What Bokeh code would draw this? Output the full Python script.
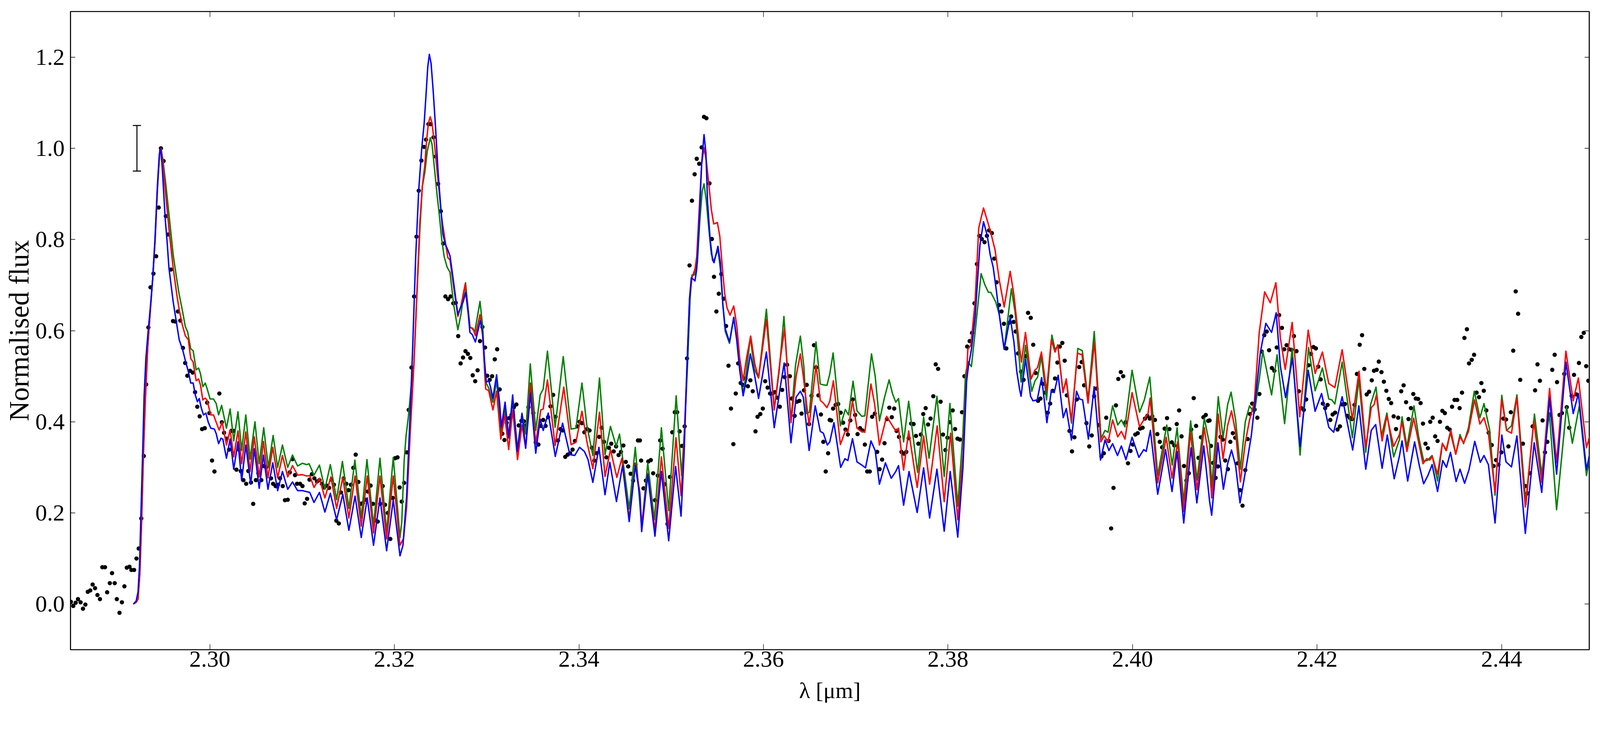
from bokeh.plotting import figure
from bokeh.models import (Range1d, FixedTicker, PrintfTickFormatter, LinearAxis,
                          Whisker, ColumnDataSource, TeeHead)
from bokeh.embed import file_html
from bokeh.resources import INLINE

# ---------------- data (wavelength in micron, normalised flux) ----------------
x_ticks = [2.30, 2.32, 2.34, 2.36, 2.38, 2.40, 2.42, 2.44]
y_ticks = [0.0, 0.2, 0.4, 0.6, 0.8, 1.0, 1.2]

err_wl = [2.2921]
err_flux = [1.0]
err_half = [0.05]

blue_model = [
(2.29176,0.001),(2.29202,0.007),(2.29222,0.027),(2.29238,0.085),(2.29255,0.209),(2.29272,0.333),
(2.29288,0.457),(2.29307,0.539),(2.29327,0.588),(2.29353,0.646),(2.29380,0.712),(2.29406,0.803),
(2.29432,0.919),(2.29452,0.985),(2.29465,1.000),(2.29481,0.968),(2.29498,0.910),(2.29517,0.844),
(2.29537,0.795),(2.29557,0.737),(2.29603,0.663),(2.29642,0.613),(2.29668,0.580),(2.29708,0.556),
(2.29734,0.535),(2.29767,0.510),(2.29793,0.485),(2.29819,0.485),(2.29845,0.457),(2.29865,0.444),
(2.29885,0.451),(2.29905,0.432),(2.29931,0.415),(2.29957,0.419),(2.29983,0.399),(2.30010,0.386),
(2.30049,0.384),(2.30069,0.374),(2.30095,0.352),(2.30121,0.364),(2.30141,0.362),(2.30180,0.320),
(2.30220,0.362),(2.30259,0.296),(2.30305,0.356),(2.30345,0.271),(2.30390,0.349),(2.30443,0.263),
(2.30482,0.341),(2.30535,0.254),(2.30581,0.327),(2.30630,0.252),(2.30682,0.310),(2.30735,0.249),
(2.30787,0.291),(2.30844,0.252),(2.30896,0.268),(2.30951,0.249),(2.31004,0.249),(2.31083,0.245),
(2.31129,0.223),(2.31188,0.245),(2.31247,0.202),(2.31306,0.243),(2.31374,0.185),(2.31441,0.241),
(2.31507,0.162),(2.31574,0.237),(2.31641,0.146),(2.31706,0.233),(2.31774,0.129),(2.31844,0.233),
(2.31916,0.117),(2.31988,0.229),(2.32061,0.106),(2.32093,0.129),(2.32133,0.237),(2.32172,0.422),
(2.32198,0.561),(2.32231,0.762),(2.32264,0.909),(2.32297,1.001),(2.32323,1.055),(2.32343,1.117),
(2.32362,1.179),(2.32379,1.206),(2.32398,1.186),(2.32421,1.125),(2.32448,1.040),(2.32474,0.947),
(2.32500,0.878),(2.32526,0.812),(2.32553,0.789),(2.32579,0.777),(2.32603,0.764),(2.32642,0.706),
(2.32688,0.635),(2.32721,0.653),(2.32747,0.664),(2.32773,0.684),(2.32799,0.640),(2.32819,0.596),
(2.32845,0.591),(2.32878,0.575),(2.32931,0.622),(2.32957,0.596),(2.32977,0.534),(2.32996,0.487),
(2.33023,0.490),(2.33042,0.476),(2.33068,0.452),(2.33108,0.503),(2.33141,0.441),(2.33160,0.388),
(2.33200,0.443),(2.33239,0.366),(2.33282,0.459),(2.33331,0.335),(2.33383,0.417),(2.33423,0.342),
(2.33475,0.463),(2.33532,0.331),(2.33580,0.406),(2.33613,0.381),(2.33668,0.419),(2.33744,0.324),
(2.33823,0.397),(2.33902,0.328),(2.33954,0.326),(2.34007,0.344),(2.34059,0.335),(2.34099,0.317),
(2.34151,0.267),(2.34217,0.344),(2.34283,0.240),(2.34335,0.311),(2.34407,0.225),(2.34473,0.304),
(2.34545,0.181),(2.34611,0.304),(2.34661,0.238),(2.34680,0.159),(2.34746,0.284),(2.34824,0.149),
(2.34894,0.291),(2.34973,0.139),(2.35048,0.302),(2.35107,0.193),(2.35140,0.330),(2.35172,0.526),
(2.35199,0.670),(2.35218,0.716),(2.35238,0.713),(2.35258,0.709),(2.35277,0.735),(2.35304,0.840),
(2.35330,0.965),(2.35356,1.030),(2.35376,0.991),(2.35395,0.879),(2.35422,0.801),(2.35448,0.755),
(2.35464,0.749),(2.35507,0.785),(2.35533,0.749),(2.35560,0.657),(2.35586,0.604),(2.35632,0.575),
(2.35678,0.629),(2.35711,0.578),(2.35743,0.513),(2.35780,0.457),(2.35816,0.493),(2.35858,0.549),
(2.35901,0.506),(2.35947,0.451),(2.36032,0.553),(2.36117,0.387),(2.36183,0.477),(2.36225,0.529),
(2.36298,0.354),(2.36354,0.454),(2.36400,0.467),(2.36432,0.454),(2.36495,0.337),(2.36561,0.435),
(2.36616,0.379),(2.36649,0.375),(2.36692,0.349),(2.36719,0.356),(2.36764,0.398),(2.36837,0.300),
(2.36883,0.319),(2.36915,0.315),(2.36965,0.363),(2.37014,0.312),(2.37066,0.305),(2.37106,0.299),
(2.37165,0.358),(2.37211,0.337),(2.37257,0.263),(2.37322,0.310),(2.37385,0.276),(2.37434,0.291),
(2.37464,0.304),(2.37519,0.217),(2.37578,0.291),(2.37666,0.201),(2.37736,0.299),(2.37801,0.189),
(2.37880,0.296),(2.37959,0.160),(2.38024,0.291),(2.38106,0.147),(2.38162,0.299),(2.38202,0.489),
(2.38221,0.521),(2.38254,0.559),(2.38294,0.630),(2.38346,0.787),(2.38385,0.839),(2.38425,0.809),
(2.38458,0.766),(2.38490,0.739),(2.38523,0.690),(2.38556,0.635),(2.38609,0.559),(2.38674,0.630),
(2.38714,0.576),(2.38746,0.510),(2.38777,0.470),(2.38792,0.456),(2.38840,0.538),(2.38895,0.456),
(2.38921,0.446),(2.38967,0.448),(2.39015,0.497),(2.39072,0.398),(2.39120,0.469),(2.39151,0.464),
(2.39194,0.502),(2.39249,0.409),(2.39282,0.429),(2.39338,0.360),(2.39393,0.467),(2.39426,0.450),
(2.39459,0.448),(2.39522,0.362),(2.39584,0.477),(2.39653,0.316),(2.39702,0.360),(2.39745,0.337),
(2.39784,0.352),(2.39837,0.326),(2.39879,0.347),(2.39929,0.317),(2.39995,0.366),(2.40069,0.322),
(2.40122,0.339),(2.40148,0.335),(2.40194,0.381),(2.40273,0.241),(2.40358,0.339),(2.40428,0.247),
(2.40483,0.335),(2.40555,0.178),(2.40634,0.343),(2.40697,0.222),(2.40772,0.347),(2.40835,0.226),
(2.40858,0.195),(2.40894,0.277),(2.40926,0.354),(2.40985,0.252),(2.41031,0.308),(2.41073,0.338),
(2.41117,0.304),(2.41165,0.222),(2.41228,0.296),(2.41287,0.369),(2.41340,0.465),(2.41386,0.553),
(2.41445,0.616),(2.41507,0.596),(2.41557,0.639),(2.41602,0.522),(2.41659,0.453),(2.41734,0.540),
(2.41816,0.346),(2.41904,0.513),(2.41979,0.423),(2.42049,0.462),(2.42127,0.388),(2.42180,0.377),
(2.42272,0.455),(2.42386,0.338),(2.42453,0.435),(2.42528,0.296),(2.42587,0.381),(2.42635,0.394),
(2.42705,0.298),(2.42761,0.371),(2.42836,0.275),(2.42893,0.325),(2.42921,0.358),(2.42982,0.270),
(2.43057,0.356),(2.43109,0.303),(2.43155,0.264),(2.43201,0.282),(2.43247,0.306),(2.43306,0.247),
(2.43362,0.315),(2.43402,0.300),(2.43446,0.333),(2.43507,0.269),(2.43549,0.296),(2.43599,0.265),
(2.43647,0.295),(2.43709,0.357),(2.43769,0.311),(2.43809,0.326),(2.43857,0.306),(2.43929,0.178),
(2.44002,0.371),(2.44048,0.312),(2.44107,0.301),(2.44166,0.369),(2.44257,0.155),(2.44353,0.354),
(2.44435,0.245),(2.44520,0.452),(2.44596,0.285),(2.44697,0.531),(2.44776,0.418),(2.44832,0.462),
(2.44920,0.295),(2.44951,0.326),
]

red_model = [
(2.29176,0.001),(2.29202,0.004),(2.29222,0.011),(2.29242,0.069),(2.29261,0.184),(2.29281,0.333),
(2.29301,0.448),(2.29327,0.564),(2.29353,0.638),(2.29380,0.712),(2.29406,0.795),(2.29432,0.910),
(2.29458,0.997),(2.29471,1.000),(2.29491,0.968),(2.29524,0.894),(2.29563,0.811),(2.29603,0.737),
(2.29642,0.679),(2.29668,0.646),(2.29701,0.613),(2.29734,0.589),(2.29767,0.580),(2.29793,0.539),
(2.29819,0.531),(2.29852,0.490),(2.29878,0.494),(2.29898,0.481),(2.29924,0.448),(2.29950,0.452),
(2.29970,0.447),(2.30010,0.415),(2.30040,0.415),(2.30069,0.399),(2.30101,0.382),(2.30134,0.399),
(2.30180,0.349),(2.30220,0.382),(2.30259,0.323),(2.30305,0.380),(2.30345,0.308),(2.30390,0.378),
(2.30436,0.291),(2.30482,0.367),(2.30535,0.279),(2.30581,0.357),(2.30630,0.277),(2.30682,0.344),
(2.30735,0.277),(2.30787,0.326),(2.30844,0.279),(2.30896,0.304),(2.30951,0.283),(2.31004,0.284),
(2.31050,0.281),(2.31083,0.282),(2.31129,0.256),(2.31188,0.276),(2.31247,0.233),(2.31312,0.279),
(2.31374,0.210),(2.31441,0.278),(2.31507,0.189),(2.31574,0.281),(2.31641,0.171),(2.31706,0.281),
(2.31774,0.156),(2.31844,0.281),(2.31916,0.143),(2.31988,0.281),(2.32061,0.129),(2.32100,0.144),
(2.32133,0.214),(2.32172,0.376),(2.32211,0.523),(2.32251,0.716),(2.32277,0.839),(2.32303,0.916),
(2.32330,0.963),(2.32349,1.017),(2.32369,1.055),(2.32389,1.069),(2.32408,1.055),(2.32435,1.009),
(2.32461,0.955),(2.32487,0.901),(2.32513,0.847),(2.32553,0.793),(2.32580,0.760),(2.32603,0.755),
(2.32642,0.697),(2.32688,0.631),(2.32721,0.653),(2.32767,0.702),(2.32819,0.607),(2.32852,0.605),
(2.32878,0.589),(2.32928,0.635),(2.32957,0.587),(2.32990,0.472),(2.33023,0.468),(2.33068,0.426),
(2.33108,0.467),(2.33154,0.362),(2.33196,0.415),(2.33239,0.339),(2.33282,0.426),(2.33335,0.317),
(2.33383,0.393),(2.33423,0.342),(2.33475,0.485),(2.33532,0.353),(2.33587,0.426),(2.33613,0.428),
(2.33659,0.492),(2.33742,0.348),(2.33836,0.476),(2.33915,0.350),(2.33968,0.355),(2.34033,0.423),
(2.34086,0.357),(2.34151,0.297),(2.34223,0.421),(2.34283,0.280),(2.34342,0.339),(2.34411,0.278),
(2.34466,0.320),(2.34545,0.187),(2.34611,0.309),(2.34661,0.244),(2.34680,0.172),(2.34746,0.287),
(2.34824,0.162),(2.34894,0.323),(2.34973,0.166),(2.35052,0.365),(2.35107,0.238),(2.35140,0.362),
(2.35172,0.526),(2.35199,0.670),(2.35225,0.716),(2.35258,0.735),(2.35277,0.762),(2.35304,0.866),
(2.35330,0.965),(2.35356,1.001),(2.35382,0.971),(2.35409,0.919),(2.35435,0.866),(2.35461,0.834),
(2.35501,0.837),(2.35527,0.807),(2.35553,0.742),(2.35579,0.683),(2.35605,0.650),(2.35638,0.634),
(2.35678,0.654),(2.35711,0.611),(2.35743,0.539),(2.35780,0.490),(2.35816,0.539),(2.35862,0.588),
(2.35907,0.526),(2.35947,0.496),(2.36032,0.625),(2.36117,0.426),(2.36183,0.539),(2.36229,0.604),
(2.36298,0.398),(2.36354,0.500),(2.36400,0.549),(2.36432,0.500),(2.36495,0.392),(2.36570,0.524),
(2.36616,0.447),(2.36649,0.441),(2.36688,0.431),(2.36719,0.445),(2.36758,0.490),(2.36834,0.350),
(2.36889,0.381),(2.36915,0.377),(2.36965,0.446),(2.37014,0.386),(2.37060,0.379),(2.37099,0.377),
(2.37165,0.483),(2.37204,0.440),(2.37257,0.349),(2.37335,0.412),(2.37408,0.388),(2.37434,0.380),
(2.37464,0.386),(2.37519,0.294),(2.37574,0.380),(2.37666,0.256),(2.37736,0.369),(2.37801,0.263),
(2.37883,0.391),(2.37959,0.225),(2.38028,0.375),(2.38106,0.185),(2.38162,0.326),(2.38215,0.559),
(2.38248,0.568),(2.38294,0.663),(2.38333,0.825),(2.38385,0.869),(2.38425,0.842),(2.38464,0.815),
(2.38510,0.777),(2.38556,0.711),(2.38609,0.652),(2.38674,0.730),(2.38714,0.679),(2.38746,0.619),
(2.38777,0.560),(2.38796,0.531),(2.38840,0.596),(2.38901,0.494),(2.38941,0.513),(2.38971,0.519),
(2.39013,0.553),(2.39068,0.467),(2.39120,0.580),(2.39160,0.553),(2.39190,0.569),(2.39246,0.464),
(2.39282,0.494),(2.39338,0.402),(2.39404,0.551),(2.39433,0.548),(2.39452,0.548),(2.39518,0.441),
(2.39588,0.575),(2.39656,0.356),(2.39693,0.369),(2.39735,0.356),(2.39784,0.404),(2.39840,0.367),
(2.39879,0.379),(2.39918,0.362),(2.39995,0.464),(2.40076,0.389),(2.40128,0.406),(2.40168,0.418),
(2.40191,0.452),(2.40273,0.266),(2.40365,0.366),(2.40428,0.276),(2.40489,0.356),(2.40555,0.203),
(2.40627,0.377),(2.40699,0.251),(2.40778,0.387),(2.40835,0.305),(2.40858,0.233),(2.40890,0.296),
(2.40929,0.417),(2.40981,0.319),(2.41031,0.392),(2.41073,0.424),(2.41117,0.377),(2.41169,0.268),
(2.41222,0.354),(2.41268,0.404),(2.41320,0.442),(2.41373,0.595),(2.41432,0.685),(2.41493,0.661),
(2.41554,0.705),(2.41602,0.584),(2.41655,0.515),(2.41730,0.618),(2.41812,0.411),(2.41904,0.601),
(2.41979,0.506),(2.42058,0.553),(2.42127,0.484),(2.42193,0.475),(2.42272,0.558),(2.42383,0.405),
(2.42455,0.511),(2.42528,0.344),(2.42587,0.431),(2.42619,0.438),(2.42643,0.459),(2.42705,0.358),
(2.42757,0.413),(2.42830,0.346),(2.42893,0.372),(2.42921,0.399),(2.42974,0.335),(2.43047,0.408),
(2.43102,0.354),(2.43148,0.308),(2.43188,0.319),(2.43221,0.316),(2.43249,0.324),(2.43306,0.285),
(2.43358,0.353),(2.43402,0.337),(2.43450,0.381),(2.43503,0.329),(2.43549,0.367),(2.43588,0.354),
(2.43641,0.379),(2.43706,0.448),(2.43765,0.395),(2.43809,0.409),(2.43857,0.375),(2.43929,0.245),
(2.44002,0.449),(2.44054,0.381),(2.44107,0.375),(2.44166,0.454),(2.44257,0.213),(2.44349,0.402),
(2.44435,0.267),(2.44520,0.473),(2.44596,0.310),(2.44697,0.555),(2.44776,0.446),(2.44832,0.496),
(2.44920,0.343),(2.44951,0.366),
]

green_model = [
(2.29176,0.001),(2.29202,0.004),(2.29222,0.011),(2.29242,0.069),(2.29261,0.184),(2.29281,0.333),
(2.29301,0.448),(2.29327,0.564),(2.29353,0.638),(2.29380,0.712),(2.29406,0.795),(2.29432,0.910),
(2.29458,0.997),(2.29471,1.000),(2.29491,0.976),(2.29524,0.919),(2.29563,0.844),(2.29603,0.766),
(2.29642,0.712),(2.29668,0.679),(2.29701,0.646),(2.29734,0.609),(2.29760,0.597),(2.29793,0.560),
(2.29819,0.556),(2.29852,0.514),(2.29878,0.518),(2.29898,0.506),(2.29924,0.477),(2.29950,0.485),
(2.29970,0.473),(2.30003,0.450),(2.30040,0.450),(2.30069,0.440),(2.30095,0.415),(2.30128,0.436),
(2.30180,0.386),(2.30220,0.428),(2.30259,0.358),(2.30305,0.422),(2.30345,0.337),(2.30390,0.415),
(2.30436,0.318),(2.30489,0.400),(2.30535,0.308),(2.30584,0.387),(2.30634,0.300),(2.30686,0.370),
(2.30735,0.300),(2.30787,0.349),(2.30844,0.300),(2.30896,0.327),(2.30951,0.303),(2.31004,0.309),
(2.31050,0.306),(2.31076,0.308),(2.31129,0.283),(2.31188,0.305),(2.31247,0.252),(2.31306,0.306),
(2.31374,0.229),(2.31437,0.313),(2.31507,0.210),(2.31572,0.316),(2.31641,0.189),(2.31703,0.317),
(2.31774,0.172),(2.31844,0.320),(2.31916,0.158),(2.31988,0.322),(2.32061,0.146),(2.32080,0.180),
(2.32106,0.314),(2.32126,0.368),(2.32152,0.411),(2.32185,0.484),(2.32211,0.523),(2.32251,0.708),
(2.32277,0.824),(2.32303,0.916),(2.32330,0.947),(2.32356,0.993),(2.32389,1.023),(2.32408,1.009),
(2.32435,0.955),(2.32461,0.901),(2.32487,0.854),(2.32513,0.800),(2.32540,0.762),(2.32572,0.739),
(2.32603,0.728),(2.32642,0.658),(2.32688,0.602),(2.32721,0.635),(2.32771,0.705),(2.32819,0.609),
(2.32872,0.598),(2.32928,0.664),(2.32957,0.609),(2.32983,0.490),(2.33023,0.474),(2.33068,0.443),
(2.33108,0.490),(2.33160,0.373),(2.33196,0.428),(2.33239,0.364),(2.33282,0.452),(2.33338,0.335),
(2.33383,0.419),(2.33423,0.373),(2.33473,0.527),(2.33532,0.381),(2.33580,0.459),(2.33613,0.472),
(2.33659,0.555),(2.33742,0.388),(2.33830,0.543),(2.33915,0.384),(2.33968,0.386),(2.34033,0.485),
(2.34086,0.392),(2.34151,0.326),(2.34223,0.496),(2.34283,0.328),(2.34342,0.390),(2.34404,0.346),
(2.34440,0.373),(2.34545,0.209),(2.34611,0.344),(2.34661,0.218),(2.34680,0.167),(2.34746,0.310),
(2.34818,0.185),(2.34894,0.387),(2.34973,0.205),(2.35054,0.457),(2.35113,0.282),(2.35146,0.388),
(2.35179,0.532),(2.35205,0.670),(2.35225,0.722),(2.35251,0.722),(2.35284,0.749),(2.35310,0.840),
(2.35336,0.906),(2.35356,0.922),(2.35380,0.886),(2.35409,0.821),(2.35435,0.768),(2.35461,0.752),
(2.35507,0.778),(2.35533,0.735),(2.35560,0.657),(2.35586,0.598),(2.35632,0.572),(2.35678,0.629),
(2.35711,0.582),(2.35743,0.519),(2.35779,0.460),(2.35816,0.513),(2.35858,0.586),(2.35901,0.516),
(2.35947,0.496),(2.36032,0.647),(2.36117,0.428),(2.36170,0.510),(2.36222,0.631),(2.36298,0.401),
(2.36347,0.523),(2.36400,0.588),(2.36439,0.519),(2.36465,0.418),(2.36498,0.421),(2.36570,0.575),
(2.36616,0.483),(2.36649,0.481),(2.36688,0.480),(2.36719,0.505),(2.36755,0.551),(2.36834,0.391),
(2.36887,0.427),(2.36922,0.415),(2.36971,0.489),(2.37014,0.424),(2.37066,0.412),(2.37099,0.413),
(2.37171,0.549),(2.37211,0.500),(2.37257,0.402),(2.37309,0.451),(2.37362,0.492),(2.37398,0.462),
(2.37434,0.443),(2.37464,0.451),(2.37519,0.356),(2.37574,0.445),(2.37670,0.289),(2.37736,0.410),
(2.37795,0.320),(2.37880,0.456),(2.37959,0.280),(2.38021,0.440),(2.38106,0.215),(2.38162,0.375),
(2.38189,0.502),(2.38215,0.532),(2.38254,0.521),(2.38294,0.597),(2.38359,0.725),(2.38399,0.701),
(2.38438,0.684),(2.38464,0.684),(2.38517,0.663),(2.38556,0.635),(2.38609,0.559),(2.38687,0.692),
(2.38727,0.641),(2.38759,0.570),(2.38777,0.526),(2.38792,0.487),(2.38840,0.568),(2.38908,0.467),
(2.38944,0.490),(2.38971,0.498),(2.39013,0.542),(2.39068,0.448),(2.39126,0.590),(2.39160,0.558),
(2.39190,0.567),(2.39246,0.467),(2.39282,0.490),(2.39338,0.397),(2.39407,0.561),(2.39456,0.556),
(2.39518,0.448),(2.39585,0.598),(2.39659,0.364),(2.39702,0.381),(2.39735,0.377),(2.39784,0.435),
(2.39840,0.393),(2.39879,0.404),(2.39918,0.389),(2.39995,0.513),(2.40076,0.421),(2.40128,0.448),
(2.40187,0.498),(2.40273,0.282),(2.40371,0.393),(2.40430,0.305),(2.40483,0.387),(2.40555,0.224),
(2.40630,0.402),(2.40699,0.272),(2.40778,0.408),(2.40835,0.350),(2.40858,0.256),(2.40894,0.350),
(2.40929,0.455),(2.40981,0.365),(2.41031,0.438),(2.41068,0.465),(2.41117,0.404),(2.41169,0.296),
(2.41222,0.400),(2.41268,0.435),(2.41320,0.419),(2.41373,0.492),(2.41412,0.555),(2.41507,0.459),
(2.41567,0.547),(2.41648,0.396),(2.41730,0.561),(2.41816,0.327),(2.41908,0.563),(2.41979,0.468),
(2.42058,0.518),(2.42127,0.450),(2.42160,0.448),(2.42193,0.439),(2.42272,0.531),(2.42383,0.365),
(2.42453,0.493),(2.42528,0.333),(2.42580,0.438),(2.42639,0.476),(2.42698,0.369),(2.42757,0.419),
(2.42830,0.323),(2.42893,0.361),(2.42921,0.411),(2.42974,0.345),(2.43050,0.435),(2.43102,0.366),
(2.43155,0.314),(2.43194,0.315),(2.43247,0.326),(2.43306,0.270),(2.43358,0.352),(2.43398,0.337),
(2.43444,0.377),(2.43503,0.329),(2.43549,0.372),(2.43588,0.352),(2.43641,0.387),(2.43704,0.467),
(2.43765,0.409),(2.43809,0.440),(2.43870,0.383),(2.43929,0.239),(2.44002,0.458),(2.44054,0.381),
(2.44107,0.391),(2.44166,0.459),(2.44264,0.218),(2.44356,0.417),(2.44435,0.285),(2.44517,0.420),
(2.44596,0.207),(2.44704,0.433),(2.44767,0.353),(2.44842,0.435),(2.44920,0.282),(2.44951,0.318),
]

observed = [
(2.28494,0.005),(2.28520,-0.004),(2.28546,0.003),(2.28571,0.011),(2.28599,0.004),(2.28625,-0.010),
(2.28651,-0.001),(2.28677,0.027),(2.28704,0.030),(2.28730,0.043),(2.28756,0.035),(2.28782,0.020),
(2.28809,0.011),(2.28835,0.081),(2.28864,0.081),(2.28887,0.026),(2.28916,0.046),(2.28940,0.068),
(2.28969,0.046),(2.28992,0.011),(2.29021,-0.019),(2.29047,0.004),(2.29074,0.039),(2.29100,0.080),
(2.29129,0.082),(2.29150,0.075),(2.29179,0.075),(2.29205,0.100),(2.29229,0.122),(2.29257,0.188),
(2.29284,0.325),(2.29310,0.482),(2.29334,0.607),(2.29357,0.695),(2.29389,0.725),(2.29418,0.763),
(2.29446,0.870),(2.29470,1.000),(2.29499,0.972),(2.29523,0.851),(2.29549,0.811),(2.29578,0.734),
(2.29601,0.621),(2.29625,0.620),(2.29654,0.642),(2.29680,0.622),(2.29709,0.562),(2.29733,0.529),
(2.29756,0.501),(2.29785,0.512),(2.29814,0.508),(2.29840,0.465),(2.29864,0.433),(2.29890,0.412),
(2.29916,0.384),(2.29945,0.386),(2.29971,0.442),(2.29995,0.419),(2.30024,0.315),(2.30050,0.291),
(2.30103,0.462),(2.30130,0.399),(2.30154,0.376),(2.30183,0.363),(2.30209,0.339),(2.30232,0.380),
(2.30259,0.380),(2.30288,0.295),(2.30315,0.339),(2.30335,0.292),(2.30364,0.272),(2.30394,0.264),
(2.30417,0.292),(2.30446,0.267),(2.30470,0.220),(2.30499,0.272),(2.30526,0.287),(2.30558,0.272),
(2.30584,0.303),(2.30610,0.300),(2.30663,0.276),(2.30686,0.264),(2.30713,0.259),(2.30739,0.262),
(2.30761,0.276),(2.30790,0.259),(2.30814,0.228),(2.30844,0.229),(2.30866,0.289),(2.30896,0.318),
(2.30923,0.283),(2.30945,0.264),(2.30978,0.264),(2.31004,0.259),(2.31028,0.221),(2.31054,0.231),
(2.31080,0.273),(2.31106,0.285),(2.31133,0.276),(2.31161,0.269),(2.31188,0.272),(2.31214,0.264),
(2.31240,0.256),(2.31266,0.260),(2.31293,0.255),(2.31319,0.273),(2.31345,0.262),(2.31371,0.183),
(2.31398,0.177),(2.31421,0.245),(2.31450,0.276),(2.31479,0.264),(2.31503,0.250),(2.31529,0.262),
(2.31555,0.299),(2.31581,0.328),(2.31610,0.268),(2.31634,0.220),(2.31660,0.222),(2.31687,0.229),
(2.31713,0.247),(2.31742,0.260),(2.31768,0.220),(2.31791,0.184),(2.31820,0.181),(2.31847,0.220),
(2.31873,0.259),(2.31899,0.218),(2.31929,0.200),(2.31956,0.143),(2.31982,0.233),(2.32008,0.320),
(2.32034,0.322),(2.32057,0.256),(2.32080,0.225),(2.32106,0.266),(2.32135,0.333),(2.32155,0.426),
(2.32185,0.519),(2.32214,0.675),(2.32240,0.806),(2.32264,0.907),(2.32293,0.973),(2.32322,1.003),
(2.32343,1.019),(2.32369,1.053),(2.32395,1.053),(2.32424,1.024),(2.32448,0.982),(2.32474,0.922),
(2.32503,0.862),(2.32529,0.791),(2.32553,0.675),(2.32582,0.669),(2.32609,0.675),(2.32639,0.660),
(2.32665,0.661),(2.32692,0.588),(2.32718,0.528),(2.32744,0.541),(2.32771,0.555),(2.32797,0.549),
(2.32823,0.540),(2.32849,0.502),(2.32876,0.489),(2.32902,0.513),(2.32928,0.577),(2.32954,0.608),
(2.32983,0.563),(2.33007,0.501),(2.33033,0.492),(2.33059,0.500),(2.33088,0.537),(2.33114,0.559),
(2.33141,0.471),(2.33170,0.374),(2.33193,0.360),(2.33217,0.398),(2.33243,0.408),(2.33269,0.415),
(2.33295,0.432),(2.33322,0.438),(2.33348,0.392),(2.33377,0.402),(2.33403,0.401),(2.33427,0.392),
(2.33453,0.432),(2.33479,0.467),(2.33506,0.419),(2.33532,0.355),(2.33561,0.350),(2.33587,0.391),
(2.33613,0.404),(2.33639,0.391),(2.33666,0.410),(2.33692,0.434),(2.33721,0.459),(2.33747,0.411),
(2.33773,0.359),(2.33800,0.384),(2.33826,0.381),(2.33852,0.323),(2.33878,0.328),(2.33905,0.331),
(2.33931,0.339),(2.33957,0.358),(2.33983,0.390),(2.34007,0.400),(2.34033,0.397),(2.34059,0.377),
(2.34088,0.384),(2.34115,0.381),(2.34141,0.343),(2.34167,0.315),(2.34193,0.331),(2.34220,0.367),
(2.34246,0.387),(2.34272,0.356),(2.34298,0.322),(2.34325,0.343),(2.34351,0.352),(2.34377,0.335),
(2.34403,0.346),(2.34430,0.327),(2.34456,0.334),(2.34482,0.348),(2.34508,0.312),(2.34534,0.302),
(2.34561,0.286),(2.34587,0.271),(2.34613,0.306),(2.34640,0.359),(2.34661,0.359),(2.34674,0.315),
(2.34700,0.254),(2.34726,0.271),(2.34752,0.313),(2.34779,0.316),(2.34805,0.287),(2.34825,0.228),
(2.34855,0.282),(2.34881,0.359),(2.34907,0.341),(2.34934,0.263),(2.34960,0.176),(2.34986,0.279),
(2.35012,0.377),(2.35039,0.421),(2.35065,0.421),(2.35091,0.379),(2.35117,0.347),(2.35146,0.390),
(2.35172,0.539),(2.35199,0.743),(2.35225,0.885),(2.35254,0.943),(2.35277,0.977),(2.35304,0.966),
(2.35330,1.002),(2.35356,1.069),(2.35382,1.066),(2.35415,0.923),(2.35441,0.801),(2.35464,0.718),
(2.35490,0.642),(2.35516,0.681),(2.35543,0.724),(2.35569,0.670),(2.35595,0.610),(2.35621,0.523),
(2.35648,0.429),(2.35674,0.351),(2.35700,0.462),(2.35726,0.528),(2.35753,0.485),(2.35779,0.481),
(2.35805,0.495),(2.35831,0.478),(2.35858,0.491),(2.35884,0.467),(2.35914,0.379),(2.35936,0.411),
(2.35966,0.417),(2.35993,0.429),(2.36019,0.489),(2.36045,0.475),(2.36072,0.462),(2.36098,0.462),
(2.36124,0.465),(2.36150,0.453),(2.36177,0.433),(2.36203,0.470),(2.36229,0.498),(2.36256,0.525),
(2.36286,0.500),(2.36308,0.451),(2.36338,0.413),(2.36364,0.444),(2.36390,0.446),(2.36413,0.418),
(2.36439,0.469),(2.36469,0.481),(2.36495,0.395),(2.36521,0.457),(2.36548,0.568),(2.36570,0.519),
(2.36596,0.458),(2.36623,0.416),(2.36649,0.356),(2.36675,0.291),(2.36701,0.331),(2.36718,0.404),
(2.36734,0.403),(2.36755,0.429),(2.36782,0.437),(2.36810,0.439),(2.36837,0.420),(2.36863,0.398),
(2.36889,0.383),(2.36915,0.372),(2.36942,0.403),(2.36968,0.449),(2.36994,0.415),(2.37020,0.373),
(2.37047,0.386),(2.37073,0.381),(2.37099,0.350),(2.37125,0.291),(2.37152,0.291),(2.37178,0.411),
(2.37207,0.418),(2.37233,0.334),(2.37259,0.296),(2.37286,0.317),(2.37312,0.353),(2.37338,0.406),
(2.37364,0.431),(2.37391,0.410),(2.37417,0.429),(2.37443,0.380),(2.37469,0.367),(2.37496,0.334),
(2.37522,0.330),(2.37548,0.334),(2.37574,0.364),(2.37601,0.396),(2.37627,0.395),(2.37653,0.369),
(2.37679,0.352),(2.37706,0.372),(2.37732,0.417),(2.37758,0.430),(2.37784,0.394),(2.37811,0.407),
(2.37841,0.456),(2.37867,0.526),(2.37893,0.516),(2.37920,0.444),(2.37946,0.372),(2.37972,0.338),
(2.37994,0.365),(2.38021,0.399),(2.38051,0.425),(2.38077,0.384),(2.38103,0.363),(2.38130,0.361),
(2.38152,0.421),(2.38178,0.500),(2.38208,0.565),(2.38235,0.577),(2.38261,0.595),(2.38287,0.660),
(2.38313,0.746),(2.38339,0.808),(2.38366,0.801),(2.38396,0.794),(2.38422,0.808),(2.38445,0.820),
(2.38475,0.814),(2.38501,0.758),(2.38527,0.706),(2.38553,0.656),(2.38580,0.642),(2.38606,0.615),
(2.38632,0.561),(2.38658,0.617),(2.38685,0.631),(2.38711,0.619),(2.38733,0.598),(2.38759,0.550),
(2.38792,0.510),(2.38819,0.492),(2.38845,0.544),(2.38868,0.639),(2.38897,0.628),(2.38924,0.569),
(2.38950,0.507),(2.38976,0.446),(2.39002,0.451),(2.39029,0.483),(2.39055,0.464),(2.39081,0.420),
(2.39107,0.440),(2.39134,0.468),(2.39160,0.495),(2.39186,0.530),(2.39212,0.565),(2.39239,0.573),
(2.39265,0.534),(2.39288,0.458),(2.39317,0.380),(2.39344,0.335),(2.39370,0.366),(2.39396,0.449),
(2.39422,0.520),(2.39449,0.531),(2.39475,0.480),(2.39501,0.397),(2.39531,0.346),(2.39558,0.370),
(2.39584,0.456),(2.39610,0.473),(2.39636,0.393),(2.39663,0.324),(2.39689,0.331),(2.39715,0.409),
(2.39741,0.358),(2.39768,0.166),(2.39794,0.255),(2.39820,0.436),(2.39846,0.494),(2.39873,0.509),
(2.39899,0.500),(2.39925,0.399),(2.39951,0.309),(2.39978,0.336),(2.40004,0.350),(2.40030,0.372),
(2.40056,0.375),(2.40082,0.385),(2.40109,0.387),(2.40135,0.407),(2.40161,0.413),(2.40187,0.407),
(2.40214,0.412),(2.40243,0.404),(2.40269,0.373),(2.40295,0.356),(2.40321,0.344),(2.40348,0.385),
(2.40374,0.408),(2.40400,0.384),(2.40426,0.355),(2.40453,0.348),(2.40479,0.395),(2.40505,0.425),
(2.40531,0.368),(2.40558,0.303),(2.40584,0.271),(2.40610,0.287),(2.40636,0.383),(2.40663,0.452),
(2.40689,0.391),(2.40715,0.321),(2.40741,0.366),(2.40768,0.410),(2.40794,0.415),(2.40820,0.402),
(2.40835,0.403),(2.40850,0.347),(2.40874,0.310),(2.40900,0.277),(2.40926,0.302),(2.40953,0.367),
(2.40979,0.361),(2.41005,0.315),(2.41034,0.296),(2.41060,0.356),(2.41087,0.375),(2.41113,0.365),
(2.41139,0.309),(2.41165,0.250),(2.41192,0.216),(2.41222,0.294),(2.41248,0.362),(2.41274,0.417),
(2.41297,0.440),(2.41323,0.427),(2.41353,0.409),(2.41375,0.461),(2.41401,0.554),(2.41428,0.590),
(2.41454,0.598),(2.41480,0.557),(2.41510,0.518),(2.41537,0.512),(2.41563,0.563),(2.41589,0.634),
(2.41619,0.606),(2.41644,0.559),(2.41670,0.568),(2.41697,0.559),(2.41723,0.558),(2.41749,0.588),
(2.41777,0.555),(2.41803,0.467),(2.41829,0.430),(2.41856,0.426),(2.41882,0.449),(2.41908,0.524),
(2.41934,0.549),(2.41961,0.564),(2.41987,0.561),(2.42013,0.521),(2.42039,0.493),(2.42063,0.440),
(2.42088,0.430),(2.42114,0.437),(2.42143,0.404),(2.42169,0.416),(2.42196,0.420),(2.42222,0.383),
(2.42248,0.390),(2.42274,0.438),(2.42302,0.439),(2.42327,0.413),(2.42353,0.409),(2.42379,0.406),
(2.42406,0.437),(2.42432,0.505),(2.42462,0.569),(2.42488,0.590),(2.42512,0.516),(2.42538,0.460),
(2.42564,0.466),(2.42593,0.491),(2.42617,0.512),(2.42646,0.514),(2.42669,0.532),(2.42698,0.509),
(2.42724,0.488),(2.42751,0.468),(2.42777,0.450),(2.42803,0.441),(2.42830,0.412),(2.42856,0.384),
(2.42879,0.409),(2.42912,0.467),(2.42938,0.480),(2.42965,0.443),(2.42991,0.406),(2.43017,0.430),
(2.43043,0.461),(2.43070,0.451),(2.43096,0.450),(2.43122,0.441),(2.43148,0.396),(2.43175,0.352),
(2.43201,0.342),(2.43227,0.400),(2.43253,0.409),(2.43280,0.368),(2.43306,0.358),(2.43332,0.400),
(2.43358,0.424),(2.43385,0.419),(2.43411,0.387),(2.43437,0.383),(2.43463,0.433),(2.43490,0.448),
(2.43519,0.448),(2.43545,0.430),(2.43571,0.464),(2.43597,0.584),(2.43624,0.603),(2.43647,0.528),
(2.43676,0.536),(2.43702,0.547),(2.43729,0.464),(2.43755,0.454),(2.43781,0.485),(2.43807,0.468),
(2.43834,0.425),(2.43860,0.376),(2.43893,0.349),(2.43914,0.303),(2.43940,0.316),(2.43966,0.306),
(2.43998,0.333),(2.44019,0.407),(2.44048,0.405),(2.44074,0.346),(2.44100,0.421),(2.44126,0.556),
(2.44153,0.686),(2.44179,0.637),(2.44202,0.492),(2.44231,0.352),(2.44257,0.259),(2.44281,0.243),
(2.44307,0.287),(2.44336,0.390),(2.44363,0.469),(2.44389,0.526),(2.44415,0.490),(2.44444,0.403),
(2.44470,0.333),(2.44496,0.356),(2.44523,0.415),(2.44549,0.514),(2.44575,0.547),(2.44601,0.487),
(2.44628,0.415),(2.44654,0.419),(2.44680,0.505),(2.44706,0.432),(2.44733,0.387),(2.44759,0.457),
(2.44785,0.503),(2.44811,0.460),(2.44838,0.529),(2.44864,0.586),(2.44890,0.595),(2.44917,0.522),
(2.44940,0.490),
]

# ---------------- figure ----------------
FONT = "Liberation Serif"
p = figure(width=4090, height=1836, output_backend="svg", toolbar_location=None,
           x_range=Range1d(2.2849, 2.4495), y_range=Range1d(-0.1, 1.3),
           min_border_left=180, min_border_right=22, min_border_top=29,
           min_border_bottom=174)
p.background_fill_color = "white"
p.border_fill_color = "white"
p.grid.visible = False
p.outline_line_color = "black"
p.outline_line_width = 2.7
p.outline_line_alpha = 1.0

def style_axis(ax, ticks, fmt, tick_len, labels=True):
    ax.ticker = FixedTicker(ticks=ticks)
    ax.formatter = PrintfTickFormatter(format=fmt)
    ax.axis_line_color = None
    ax.major_tick_in = tick_len
    ax.major_tick_out = 0
    ax.major_tick_line_width = 1.3
    ax.major_tick_line_color = "black"
    ax.minor_tick_line_color = None
    if labels:
        ax.major_label_text_font = FONT
        ax.major_label_text_font_size = "60px"
        ax.major_label_text_color = "black"
    else:
        ax.major_label_text_font_size = "0px"
        ax.major_label_text_color = None
        ax.major_label_standoff = 0

style_axis(p.xaxis[0], x_ticks, "%.2f", 14)
style_axis(p.yaxis[0], y_ticks, "%.1f", 12)
p.xaxis[0].major_label_standoff = 4
p.yaxis[0].major_label_standoff = 15

p.xaxis[0].axis_label = "λ [μm]"
p.yaxis[0].axis_label = "Normalised flux"
for ax, size, so in ((p.xaxis[0], "58px", 25), (p.yaxis[0], "71px", 0)):
    ax.axis_label_text_font = FONT
    ax.axis_label_text_font_size = size
    ax.axis_label_text_font_style = "normal"
    ax.axis_label_text_color = "black"
    ax.axis_label_standoff = so

top_ax = LinearAxis()
style_axis(top_ax, x_ticks, "%.2f", 14, labels=False)
p.add_layout(top_ax, "above")
right_ax = LinearAxis()
style_axis(right_ax, y_ticks, "%.1f", 12, labels=False)
p.add_layout(right_ax, "right")

# observed spectrum (dots)
obs_wl = [d[0] for d in observed]
obs_flux = [d[1] for d in observed]
p.scatter(obs_wl, obs_flux, size=11, fill_color="black", line_color="black", line_width=0)

# models
for series, col in ((green_model, "#008000"), (red_model, "#ff0000"), (blue_model, "#0000ff")):
    p.line([s[0] for s in series], [s[1] for s in series], line_color=col, line_width=3.6,
           line_join="round", line_cap="round")

# representative error bar
err_src = ColumnDataSource(dict(
    x=err_wl,
    lower=[f - e for f, e in zip(err_flux, err_half)],
    upper=[f + e for f, e in zip(err_flux, err_half)],
))
whisk = Whisker(base="x", lower="lower", upper="upper", source=err_src, dimension="height",
                line_color="black", line_width=2.6,
                upper_head=TeeHead(size=21, line_width=2.6, line_color="black"),
                lower_head=TeeHead(size=21, line_width=2.6, line_color="black"))
p.add_layout(whisk)

open("out.html", "w").write(file_html(p, INLINE))
